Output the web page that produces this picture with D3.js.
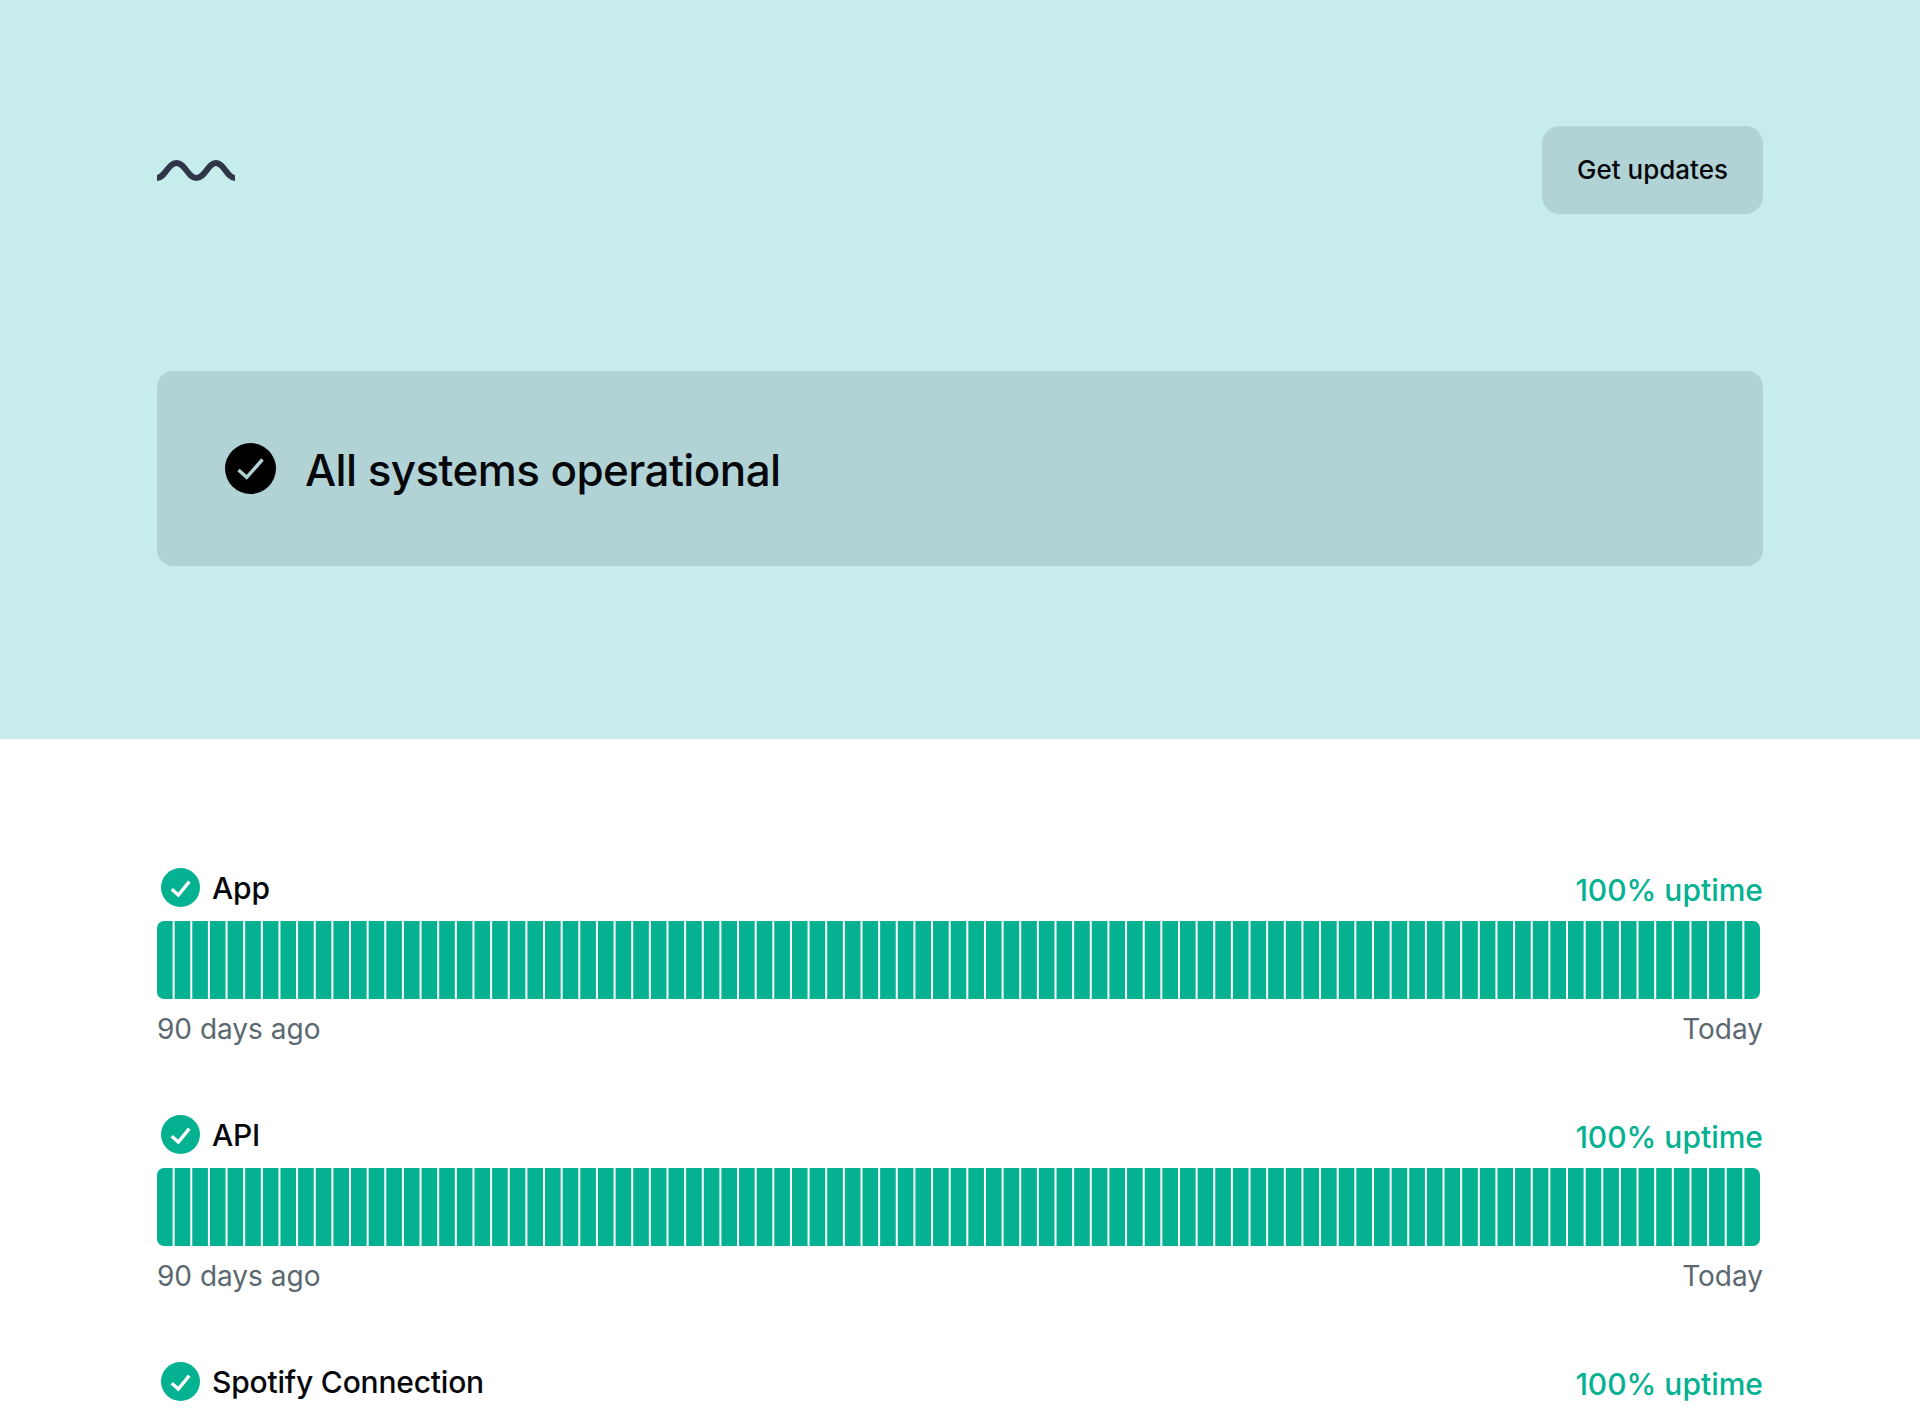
<!DOCTYPE html>
<html>
<head>
<meta charset="utf-8">
<title>Status</title>
<script src="https://cdn.jsdelivr.net/npm/d3@7"></script>
<style>
html,body{margin:0;padding:0;background:#fff;overflow:hidden}
svg{display:block}
text{font-family:Inter,"Noto Sans",sans-serif;font-kerning:normal}
</style>
</head>
<body>
<svg id="c" width="1920" height="1415"></svg>
<script>
const serviceNames = ["App", "API", "Spotify Connection"];
const uptimeLabels = ["100% uptime", "100% uptime", "100% uptime"];
const startLabel = "90 days ago";
const endLabel = "Today";
const headline = "All systems operational";
const buttonLabel = "Get updates";
const appDaily = [100,100,100,100,100,100,100,100,100,100,100,100,100,100,100,100,100,100,100,100,100,100,100,100,100,100,100,100,100,100,100,100,100,100,100,100,100,100,100,100,100,100,100,100,100,100,100,100,100,100,100,100,100,100,100,100,100,100,100,100,100,100,100,100,100,100,100,100,100,100,100,100,100,100,100,100,100,100,100,100,100,100,100,100,100,100,100,100,100,100,100];
const apiDaily = [100,100,100,100,100,100,100,100,100,100,100,100,100,100,100,100,100,100,100,100,100,100,100,100,100,100,100,100,100,100,100,100,100,100,100,100,100,100,100,100,100,100,100,100,100,100,100,100,100,100,100,100,100,100,100,100,100,100,100,100,100,100,100,100,100,100,100,100,100,100,100,100,100,100,100,100,100,100,100,100,100,100,100,100,100,100,100,100,100,100,100];
const spotifyDaily = [];
const dailySeries = [appDaily, apiDaily, spotifyDaily];

const HERO = "#c6ecec", PANEL = "#b1d3d6", GREEN = "#04b191", GREY = "#5b6870", INK = "#05070b";
const svg = d3.select("#c");

svg.append("rect").attr("width",1920).attr("height",1415).attr("fill","#fff");
svg.append("rect").attr("width",1920).attr("height",739).attr("fill",HERO);

// logo
svg.append("path")
  .attr("d","M157,178 C165,178 168,163 176.5,163 C185,163 188,178 196.5,178 C205,178 208,163 216,163 C224,163 227,178 235,178")
  .attr("fill","none").attr("stroke","#2f364a").attr("stroke-width",6);

// button
svg.append("rect").attr("x",1542).attr("y",126).attr("width",221).attr("height",88).attr("rx",18).attr("fill",PANEL);
svg.append("text").attr("x",1652.5).attr("y",179).attr("text-anchor","middle")
  .attr("font-size",26).attr("font-weight",500).attr("fill",INK).text(buttonLabel);

// banner
svg.append("rect").attr("x",157).attr("y",371).attr("width",1606).attr("height",195).attr("rx",16).attr("fill",PANEL);
svg.append("circle").attr("cx",250.5).attr("cy",468.5).attr("r",25.5).attr("fill","#000");
svg.append("path").attr("d","M238.5,470 L246.7,477.3 L262.5,459.5").attr("fill","none").attr("stroke",PANEL).attr("stroke-width",3.4);
svg.append("text").attr("x",305).attr("y",486).attr("font-size",44).attr("font-weight",500).attr("letter-spacing","-0.6").attr("fill",INK).text(headline);

// scales
const dayScale = d3.scaleBand().domain(d3.range(appDaily.length)).range([157,1760]).paddingInner(0.114).paddingOuter(0);
const valueScale = d3.scaleLinear().domain([0,100]).range([78,0]);
const rowScale = d3.scalePoint().domain(serviceNames).range([921,1415]);

const defs = svg.append("defs");

serviceNames.forEach((name,i)=>{
  const top = rowScale(name);
  const g = svg.append("g");

  g.append("circle").attr("cx",180.5).attr("cy",top-33.5).attr("r",19.5).attr("fill",GREEN);
  g.append("path").attr("d",`M171.7,${top-31.7} L178.3,${top-26} L189.3,${top-39.3}`)
    .attr("fill","none").attr("stroke","#fff").attr("stroke-width",3.4);
  g.append("text").attr("x",212).attr("y",top-22).attr("font-size",30).attr("font-weight",500).attr("letter-spacing","-0.2").attr("fill",INK).text(name);
  g.append("text").attr("x",1763).attr("y",top-20).attr("text-anchor","end")
    .attr("font-size",30).attr("font-weight",500).attr("fill",GREEN).text(uptimeLabels[i]);

  const clipId = "clip"+i;
  defs.append("clipPath").attr("id",clipId).append("rect")
    .attr("x",157).attr("y",top).attr("width",1603).attr("height",78).attr("rx",7);
  g.append("g").attr("clip-path",`url(#${clipId})`)
    .selectAll("rect").data(dailySeries[i]).join("rect")
    .attr("x",(d,j)=>dayScale(j))
    .attr("y",d=>top+valueScale(d))
    .attr("width",dayScale.bandwidth())
    .attr("height",d=>78-valueScale(d))
    .attr("fill",GREEN);

  if (dailySeries[i].length){
    g.append("text").attr("x",157).attr("y",top+118).attr("font-size",28).attr("fill",GREY).text(startLabel);
    g.append("text").attr("x",1763).attr("y",top+118).attr("text-anchor","end").attr("font-size",28).attr("fill",GREY).text(endLabel);
  }
});
</script>
</body>
</html>
